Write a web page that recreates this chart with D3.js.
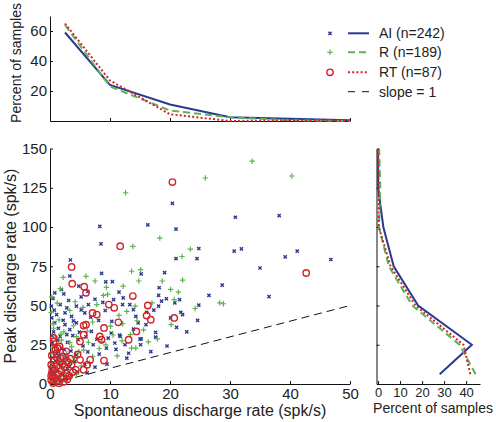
<!DOCTYPE html>
<html><head><meta charset="utf-8">
<script src="https://cdn.jsdelivr.net/npm/d3@7"></script>
<style>
body{margin:0;background:#fff}
svg{display:block}
text{font-family:Arial,"Liberation Sans",Helvetica,sans-serif;fill:#222}
</style>
</head><body><svg id="c" width="496" height="422"></svg>
<script>
// ---------- DATA ----------
const seriesNames = ["AI (n=242)", "R (n=189)", "RT (n=87)"];
const slopeLabel = "slope = 1";
const xTickVals = [0, 10, 20, 30, 40, 50];
const yTickVals = [0, 25, 50, 75, 100, 125, 150];
const topYTicks = [20, 40, 60];
const rightXTicks = [0, 10, 20, 30, 40];
const rightYTicks = [25, 50, 75, 100, 125];

// top histogram (spontaneous rate bins)
const topBins = [2.5, 10, 20, 30, 40, 50];
const topAI = [59, 24, 11, 2.5, 1.5, 0.5];
const topR  = [64, 23, 7, 2.5, 0.5, 0];
const topRT = [65, 27, 4.5, 0, 0.5, 0];

// right histogram (peak rate bins)
const rightBins = [6.25, 25, 50, 75, 100, 125, 150];
const rightAI = [28, 42.6, 18.2, 7.1, 2.4, 0, 0];
const rightR  = [44.3, 37, 15.5, 4.9, 0.4, 1, 0.5];
const rightRT = [41.9, 38.8, 17, 5.7, 0.3, 0.3, 0];

// scatter points [spontaneous, peak]
const aiPts = [
[20.4,115],[30.9,106.2],[8.3,100.4],[16.3,101.3],[21,98.7],[38.2,107.2],
[8.5,89.3],[24.8,86.3],[30.7,84.6],[31.9,86.1],[41.2,84.6],[39.2,81],[46.8,79.3],
[21,79.9],[24.5,79.9],[3.4,79],[35,73.9],[3.3,68.8],[8.6,70.5],[15.2,70.1],[19.1,70.9],
[9.3,65],[10.4,65.2],[4.8,62.4],[28.7,63],[18.2,61.3],[1.9,60.3],[36.5,55.6],
[0.8,58.1],[12.2,54.9],[10.6,53.8],[6.4,50.6],[4.4,49.6],[1.7,50.6],[2.8,48.5],[0.2,49.6],
[1.1,44.2],[2.5,45.3],[3.6,43.1],[5.8,45.3],[0.3,42.1],[0.8,38.9],[2.5,37.8],[4.4,38.9],
[10.3,39.9],[1.7,30.3],[4.7,28.2],[11.7,30.3],[10.8,26.1],[12.5,25],[4.4,18.6],[3.3,34.6],
[6.9,33.5],[1.9,22.9],[7.2,25],[9.4,22.9],[13.1,19.6],[14.7,38.9],[13.9,47.4],[13.3,50.6],
[18.1,56.4],[19.4,54.3],[18.6,52.8],[18.1,49.6],[17.3,47],[20.8,51.7],[21.6,53.8],[24.8,50.2],
[16.1,45.7],[21.8,45.7],[22.1,44.2],[20.1,42.1],[21.1,36.1],[16,37.8],[17.6,32.9],[17.6,29.9],
[15.2,28.7],[15.1,25],[12.1,50.6],[13.9,35],[15,28.6],[11.6,31.2],[10.2,32.5],[8.1,40.5],
[6.8,42.5],[9.2,46.8],[7.5,54],[5.2,55.5],[3.1,53.2],[0.5,54.5],[2.2,40.6],[1.4,35.5],
[0.6,33.2],[3.8,30.8],[5.5,24.2],[6.3,20.5],[8.2,19],[2.9,26.5],[0.4,26],[1.2,19.5],
[3.5,21],[2.6,16.5],[0.9,14.8],[4.1,14.2],[5.8,12.5],[7.5,10.8],[1.8,12.2],[0.3,10.5],
[2.9,9.8],[1.1,8.3],[0.5,6.5],[2.2,6.2],[3.5,5.4],[1.5,4.2],[0.6,3.3],[0.2,1.8],[1.9,2.5],
[0.9,0.9],[2.7,3.1],[4.6,7.7],[6.2,7.1],[3.2,11.5],[0.4,16.8],[1.6,17.8],[2.4,21.8],
[0.8,24],[4.9,33],[6,30],[7.8,28.5],[9.7,29.2],[11,22],[12.8,16.5],[9.5,12.7],[0.3,30.8],
[1.3,28],[2.8,31.5],[3.9,40.2],[0.7,47],[5.2,47.2],[8.8,52],[11.5,58.5],[6.3,58.9],[2.3,57.4],
[14.3,43.1],[22.8,33.2],[24.6,40.5],[26.5,56.5],[19.5,24.2],[16.8,20.6]
];
const rPts = [
[25.9,131.2],[12.6,121.8],[33.7,141.9],[40.3,132.5],[18.3,92.9],[13.8,87.6],[23.4,85.9],[22,81.2],
[2.2,67.9],[6,68.6],[13.6,71.8],[15.1,72.8],[7.5,65.6],[14.8,65.6],[18.7,65.6],[22.1,66.2],
[20.1,60.3],[1.7,60.7],[8.9,56.4],[9.6,57.1],[7.8,50.6],[14.2,49.6],[21.4,58.5],[17,51.7],
[20.7,53.8],[24.2,48.1],[28.3,51.7],[28.9,51.1],[20.2,37.8],[17.9,28.7],[13.6,22.9],[14.3,22.9],
[0.3,55.5],[1.2,51.5],[0.2,45.5],[3.3,46.8],[12.8,46.2],[11.5,43.7],[14.5,40.3],[10.1,36.8],
[7.1,39.5],[8.6,27.2],[6.4,26.6],[3.3,26.3],[12,27.5],[13.4,31.5],[16.4,26.8],[0.5,38.5],
[2.3,33.2],[1.5,40.8],[0.6,35.5],[3.9,37.1],[5.6,21.6],[4.8,20.5],[7.1,17.6],[8.2,22.6],
[11.2,17.9],[2.8,19.3],[1.9,27.9],[0.4,22.8],[1.1,24.7],[0.2,19.1],[0.8,17.2],[1.6,15.6],
[2.4,14.1],[3.3,12.8],[0.3,13.2],[1.2,11.7],[2.1,10.4],[0.7,9.6],[3.9,9.2],[1.4,8.1],
[0.2,7.4],[2.6,7.0],[0.9,5.6],[1.8,5.1],[3.1,4.6],[0.4,3.8],[1.3,2.9],[2.3,2.4],
[0.6,1.7],[0.1,0.8],[1.7,1.2],[4.4,6.3],[5.2,11.6],[6.6,13.2],[2.8,16.8],[4.1,16.6],
[0.5,11.1],[1.5,13.8],[2.2,18.2],[3.6,23.6],[0.9,29.8],[1.8,31.8],[4.4,30.2],[6.2,33.6],
[9.3,24.9],[10.5,31.2],[12.1,38.4],[15.6,34.5],[4.2,52.4],[5.5,48.8],[9.4,61.5],[12.2,62.3]
];
const rtPts = [
[20.4,128.6],[11.7,87.8],[3.6,74.6],[3.7,63.9],[5.7,62],[6,58.1],[42.7,70.7],[13.8,56],
[10.7,48.5],[9.8,50.6],[7.1,45.3],[7.8,44.2],[16.1,43.6],[16.8,41],[16.3,50],[20.7,42.1],
[11.4,39.3],[6,37.8],[5.6,37.2],[9,35.7],[0.6,27.1],[14.4,33.5],[8.3,30.3],[8.6,28.2],
[13.1,28.2],[5,27.1],[5.6,31.4],[1.6,23.9],[9,14.9],[6.7,15.4],[5,15.4],[5.6,9],[4.3,9],
[6.2,12.2],[3.6,12.2],[0.6,29.3],
[0.3,18.2],[1.1,19.6],[2.1,17.5],[0.7,15.2],[1.6,14.1],[2.8,14.6],[0.2,12.3],[1.2,11.4],
[2.4,10.8],[3.1,13.6],[0.8,9.2],[1.9,8.4],[0.3,7.1],[1.4,6.2],[2.6,6.8],[0.6,4.8],[1.8,3.9],
[0.2,2.6],[1.1,1.9],[2.3,1.4],[0.5,0.6],[3.2,5.2],[3.8,7.6],[2.7,20.8],[0.9,21.9],[1.7,16.5],
[0.4,10.1],[2.9,3.1],[1.3,22.8],[4.6,18.8],[3.4,16.1],[0.2,5.3],[1.5,0.5],[2.1,12.7]
];
const slopeLine = [[0,0],[50,50]];

// ---------- STYLE ----------
const cBlue = "#2b3990", cGreen = "#5db34f", cRed = "#d2232a";
const svg = d3.select("#c");

// ---------- SCALES ----------
const x = d3.scaleLinear().domain([0, 50]).range([50, 350]);
const y = d3.scaleLinear().domain([0, 150]).range([384, 148.5]);
const yTop = d3.scaleLinear().domain([0, 70]).range([121, 16]);
const xR = d3.scaleLinear().domain([-0.7, 46.3]).range([376.5, 480]);

function styleAxis(g, fs) {
  g.select(".domain").attr("stroke", "#111").attr("stroke-width", 1);
  g.selectAll(".tick line").attr("stroke", "#111");
  g.selectAll(".tick text").attr("font-size", fs).attr("fill", "#222")
    .attr("font-family", "Arial, 'Liberation Sans', sans-serif");
}

// ---------- MAIN SCATTER ----------
svg.append("g").attr("transform", "translate(0,384)")
  .call(d3.axisBottom(x).tickValues(xTickVals).tickSizeInner(-3).tickSizeOuter(0).tickPadding(4))
  .call(g => styleAxis(g, 15));
svg.append("g").attr("transform", "translate(50,0)")
  .call(d3.axisLeft(y).tickValues(yTickVals).tickSizeInner(-3).tickSizeOuter(0).tickPadding(3))
  .call(g => styleAxis(g, 15));

svg.append("path").datum(slopeLine)
  .attr("d", d3.line().x(d => x(d[0])).y(d => y(d[1])))
  .attr("fill", "none").attr("stroke", "#111").attr("stroke-width", 1)
  .attr("stroke-dasharray", "8,5");

const xMark = "M-1.6,-1.6L1.6,1.6M-1.6,1.6L1.6,-1.6";
const plusMark = "M-2.7,0H2.7M0,-2.7V2.7";

svg.append("g").selectAll("path").data(aiPts).join("path")
  .attr("transform", d => `translate(${x(d[0])},${y(d[1])})`)
  .attr("d", xMark).attr("stroke", cBlue).attr("stroke-width", 1.4).attr("fill", "none");
svg.append("g").selectAll("path").data(rPts).join("path")
  .attr("transform", d => `translate(${x(d[0])},${y(d[1])})`)
  .attr("d", plusMark).attr("stroke", cGreen).attr("stroke-width", 1.2).attr("fill", "none");
svg.append("g").selectAll("circle").data(rtPts).join("circle")
  .attr("cx", d => x(d[0])).attr("cy", d => y(d[1])).attr("r", 3.2)
  .attr("stroke", cRed).attr("stroke-width", 1.4).attr("fill", "none");

svg.append("text").attr("x", 200).attr("y", 416).attr("text-anchor", "middle")
  .attr("font-size", 16).text("Spontaneous discharge rate (spk/s)");
svg.append("text").attr("transform", "translate(16,266) rotate(-90)").attr("text-anchor", "middle")
  .attr("font-size", 16).text("Peak discharge rate (spk/s)");

// ---------- TOP HISTOGRAM ----------
svg.append("g").attr("transform", "translate(0,121)")
  .call(d3.axisBottom(x).tickValues(xTickVals).tickSizeInner(-3).tickSizeOuter(0).tickFormat(""))
  .call(g => styleAxis(g, 15));
svg.append("g").attr("transform", "translate(50,0)")
  .call(d3.axisLeft(yTop).tickValues(topYTicks).tickSizeInner(-3).tickSizeOuter(0).tickPadding(3))
  .call(g => styleAxis(g, 15));
svg.append("text").attr("transform", "translate(21,63) rotate(-90)").attr("text-anchor", "middle")
  .attr("font-size", 14).text("Percent of samples");

const topLine = d3.line().x((d, i) => x(topBins[i])).y(d => yTop(d));
const lineStyles = [
  {col: cBlue, dash: null},
  {col: cGreen, dash: "7,4"},
  {col: cRed, dash: "2,2.2"}
];
[topAI, topR, topRT].forEach((s, k) => {
  svg.append("path").datum(s).attr("d", topLine).attr("fill", "none")
    .attr("stroke", lineStyles[k].col).attr("stroke-width", 2)
    .attr("stroke-dasharray", lineStyles[k].dash);
});

// ---------- RIGHT HISTOGRAM ----------
svg.append("g").attr("transform", "translate(0,384)")
  .call(d3.axisBottom(xR).tickValues(rightXTicks).tickSizeInner(-3).tickSizeOuter(0).tickPadding(4))
  .call(g => styleAxis(g, 13));
svg.append("g").attr("transform", "translate(376.5,0)")
  .call(d3.axisLeft(y).tickValues(rightYTicks).tickSizeInner(-3).tickSizeOuter(0).tickFormat(""))
  .call(g => styleAxis(g, 13));
svg.append("text").attr("x", 433).attr("y", 413).attr("text-anchor", "middle")
  .attr("font-size", 14).text("Percent of samples");

const rightLine = d3.line().x(d => xR(d)).y((d, i) => y(rightBins[i]));
[rightAI, rightR, rightRT].forEach((s, k) => {
  svg.append("path").datum(s).attr("d", rightLine).attr("fill", "none")
    .attr("stroke", lineStyles[k].col).attr("stroke-width", 2)
    .attr("stroke-dasharray", lineStyles[k].dash);
});

// ---------- LEGEND ----------
const legY = [33.3, 52.3, 72.3, 91.7];
const leg = svg.append("g");
seriesNames.concat([slopeLabel]).forEach((name, i) => {
  const cy = legY[i];
  if (i === 0) leg.append("path").attr("transform", `translate(330,${cy})`).attr("d", xMark)
      .attr("stroke", cBlue).attr("stroke-width", 1.4);
  if (i === 1) leg.append("path").attr("transform", `translate(330,${cy})`).attr("d", plusMark)
      .attr("stroke", cGreen).attr("stroke-width", 1.2);
  if (i === 2) leg.append("circle").attr("cx", 330).attr("cy", cy).attr("r", 3.2)
      .attr("stroke", cRed).attr("stroke-width", 1.4).attr("fill", "none");
  const col = i < 3 ? lineStyles[i].col : "#111";
  const dash = i < 3 ? lineStyles[i].dash : "7,7";
  leg.append("line").attr("x1", 348).attr("x2", 369).attr("y1", cy).attr("y2", cy)
    .attr("stroke", col).attr("stroke-width", i < 3 ? 2 : 1).attr("stroke-dasharray", dash);
  leg.append("text").attr("x", 379).attr("y", cy + 5).attr("font-size", 14).text(name);
});
</script>
</body></html>
